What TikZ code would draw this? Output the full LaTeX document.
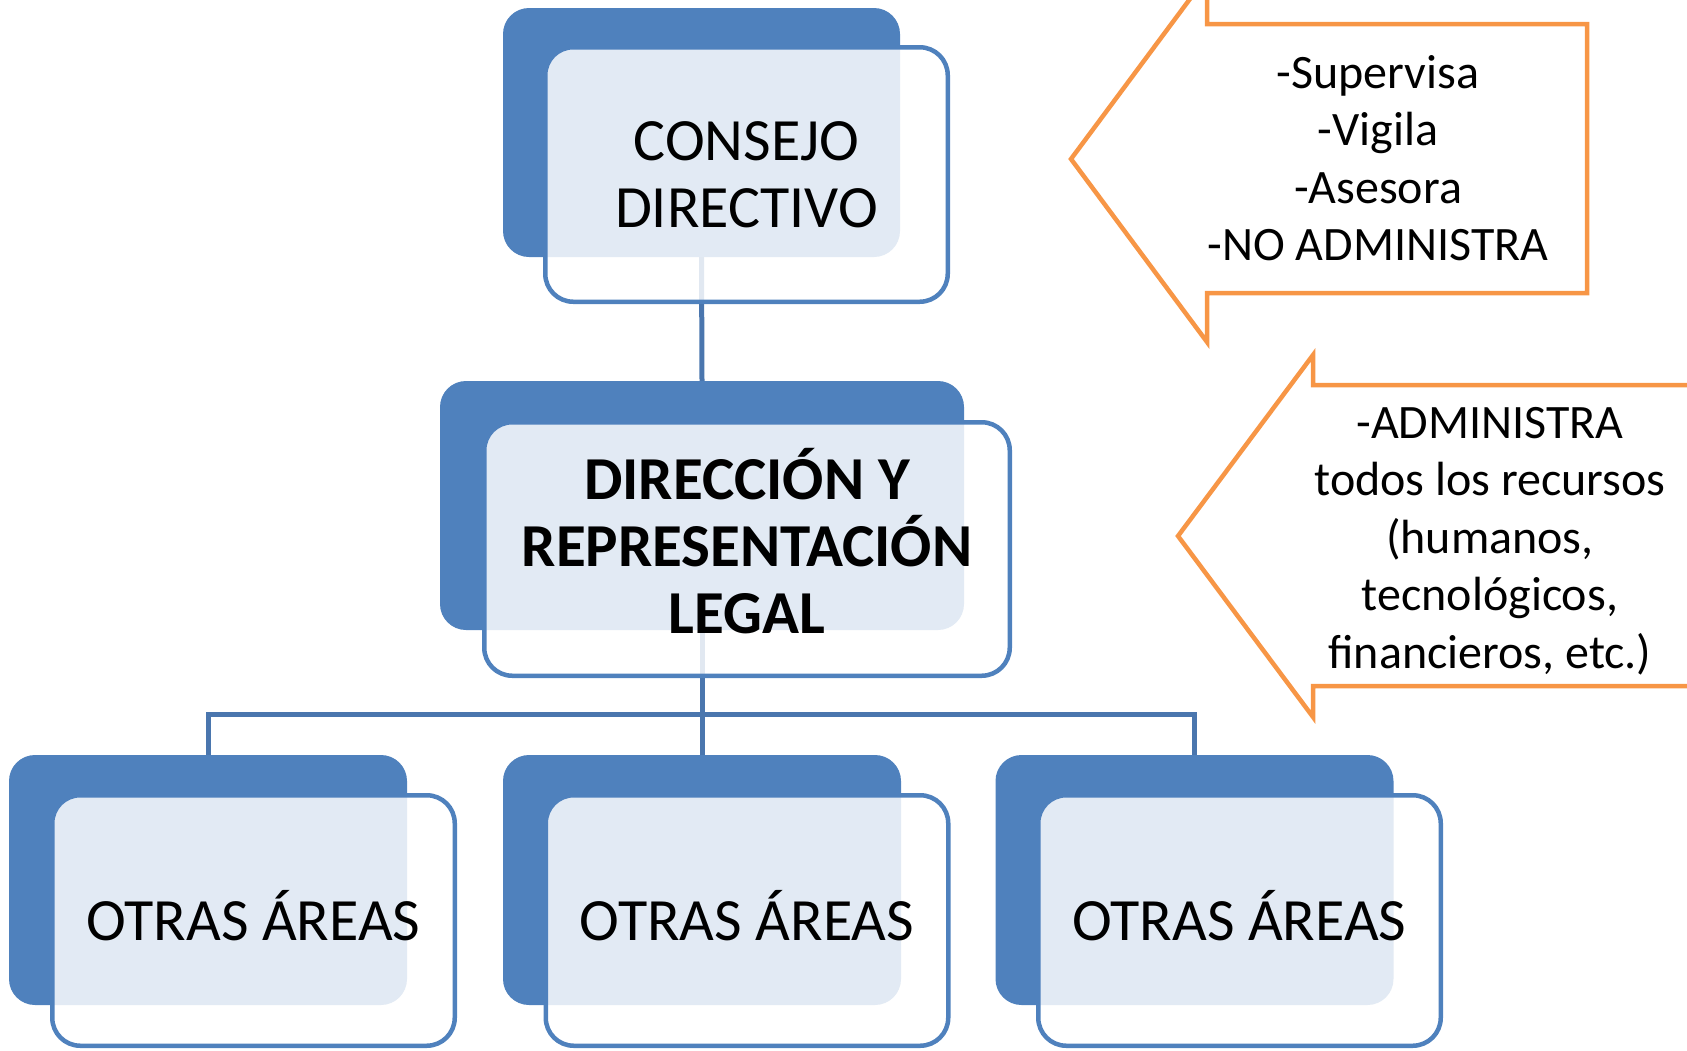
\documentclass[tikz,border=0pt]{standalone}
\usepackage{fontspec}
\setmainfont{Carlito}
\usepackage{tikz}
\definecolor{boxblue}{HTML}{4F81BD}
\definecolor{linkblue}{HTML}{4A76AE}
\definecolor{arroworange}{HTML}{F79646}

\begin{document}
\begin{tikzpicture}[x=1pt, y=-1pt]
    \tikzstyle{backbox} = [rectangle, rounded corners=26pt, fill=boxblue, inner sep=0pt, minimum width=398pt, minimum height=250pt]
    \tikzstyle{frontbox} = [rectangle, rounded corners=28pt, draw=boxblue, line width=4.5pt, fill=white, fill opacity=0.84, text opacity=1, inner sep=0pt, minimum width=402.5pt, minimum height=250.5pt, align=center, font=\fontsize{60}{67}\selectfont]
    \tikzstyle{boxtext} = [align=center, inner sep=0pt, font=\fontsize{60}{67}\selectfont]
    \tikzstyle{link} = [linkblue, line width=5pt]
    \tikzstyle{callout} = [arroworange, line width=4.5pt, line join=miter]
    \tikzstyle{callouttext} = [align=center, font=\fontsize{48}{57.5}\selectfont]
    \useasboundingbox (0,0) rectangle (1687,1050);
    \clip (0,0) rectangle (1687,1050);

    \node[backbox, minimum width=397pt, minimum height=249pt] (consejoback) at (701.5,132.5) {};
    \node[backbox, minimum width=524pt, minimum height=249pt] (direccionback) at (702,505.5) {};
    \foreach \n/\x in {1/208, 2/702, 3/1194.5} {
        \node[backbox] (areaback\n) at (\x,880) {};
    }

    \coordinate (bus) at (702,714);
    \draw[link] (consejoback.south) -- (direccionback.north);
    \draw[link] (direccionback.south) -- (bus);
    \foreach \n in {1,2,3} {
        \draw[link] (bus) -| (areaback\n.north);
    }

    \node[frontbox, minimum height=254.5pt] (consejo) at (746.5,174.5) {CONSEJO\\DIRECTIVO};
    \node[frontbox, minimum width=525.5pt, minimum height=253.5pt] (direccion) at (747,549) {};
    \node[boxtext, font=\fontsize{61}{67}\selectfont\bfseries] (direcciontext) at ([yshift=8pt]direccion.center) {DIRECCIÓN Y\\REPRESENTACIÓN\\LEGAL};
    \foreach \n/\x in {1/253.5, 2/747, 3/1239.5} {
        \node[frontbox] (area\n) at (\x,920.5) {};
        \node[boxtext] (areatext\n) at ([yshift=5pt]area\n.center) {OTRAS ÁREAS};
    }

    \draw[callout] (1071,159) -- (1207,-24) -- (1207,24) -- (1587,24) -- (1587,293) -- (1207,293) -- (1207,342) -- cycle;
    \node[callouttext] (supervisa) at (1378,158) {-Supervisa\\-Vigila\\-Asesora\\-NO ADMINISTRA};
    \draw[callout] (1178,536) -- (1313,355) -- (1313,385) -- (1710,385) -- (1710,686) -- (1313,686) -- (1313,717) -- cycle;
    \node[callouttext] (administra) at (1490,541) {-ADMINISTRA\\todos los recursos\\(humanos,\\tecnológicos,\\financieros, etc.)};
\end{tikzpicture}
\end{document}
